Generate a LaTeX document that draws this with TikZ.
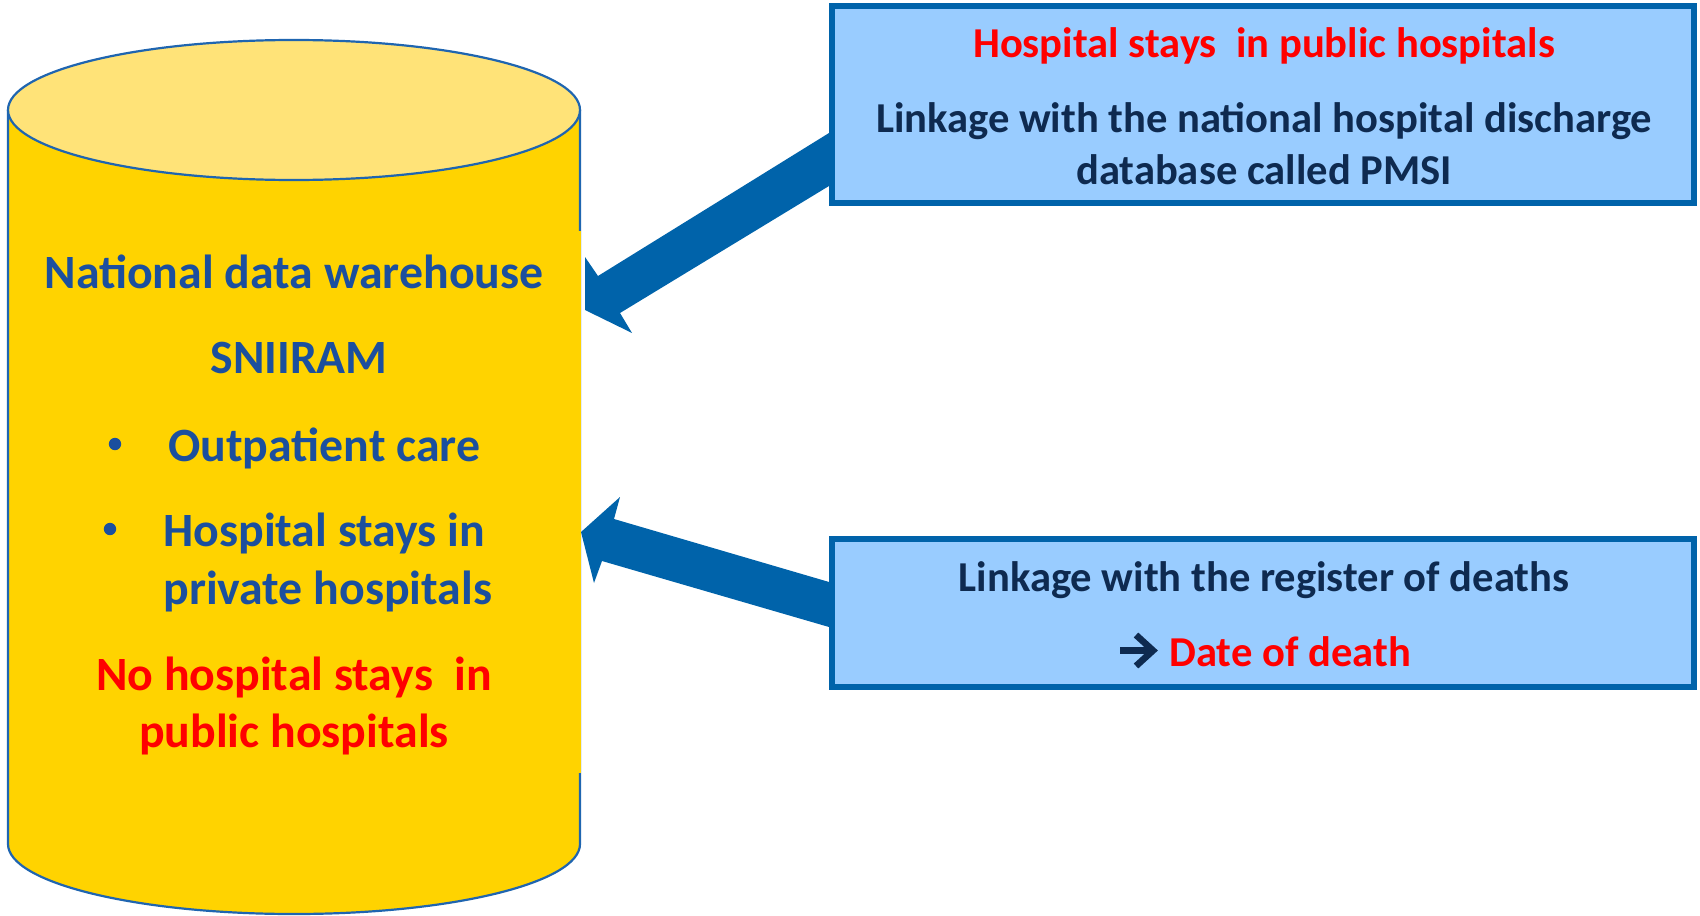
\documentclass[tikz,border=0pt]{standalone}
\usepackage{fontspec}
\setmainfont{Carlito}
\definecolor{cylbody}{HTML}{FFD300}
\definecolor{cyltop}{HTML}{FFE378}
\definecolor{cylline}{HTML}{1F65B0}
\definecolor{arrblue}{HTML}{0063AA}
\definecolor{boxfill}{HTML}{99CCFF}
\definecolor{txtblue}{HTML}{1B4F9E}
\definecolor{txtnavy}{HTML}{0E2A50}
\definecolor{txtred}{HTML}{FF0000}
\tikzset{
  boxtext/.style={anchor=base, inner sep=0pt, font=\bfseries\fontsize{21.3}{25.5}\selectfont, text=txtnavy},
  cyltext/.style={anchor=base, inner sep=0pt, font=\bfseries\fontsize{23.9}{28.7}\selectfont, text=txtblue},
  linkbox/.style={draw=arrblue, fill=boxfill, line width=3pt, inner sep=0pt, minimum width=431pt},
  blockarrow/.style={fill=arrblue, draw=none},
  bulletdot/.style={circle, fill=txtblue, inner sep=0pt, minimum size=6.2pt},
}
\begin{document}
\begin{tikzpicture}[x=0.5pt,y=-0.5pt]
\useasboundingbox (0,0) rectangle (1700,915);
% cylinder body
\fill[cylbody] (8,110) -- (8,844) .. controls (8,882.66) and (136.04,914) .. (294,914)
  .. controls (451.96,914) and (580,882.66) .. (580,844) -- (580,110) -- cycle;
\draw[cylline, line width=1.1pt] (8,110) -- (8,844) .. controls (8,882.66) and (136.04,914) .. (294,914)
  .. controls (451.96,914) and (580,882.66) .. (580,844) -- (580,110);
% top ellipse
\draw[cylline, line width=1.1pt, fill=cyltop] (8,110) .. controls (8,71.34) and (136.04,40) .. (294,40)
  .. controls (451.96,40) and (580,71.34) .. (580,110)
  .. controls (580,148.66) and (451.96,180) .. (294,180)
  .. controls (136.04,180) and (8,148.66) .. (8,110) -- cycle;
% block arrows
\fill[blockarrow] (585,257) -- (585,310) -- (632,333) -- (620,313) -- (840,179.3) -- (840,126.2) -- (598,276) -- cycle;
\fill[blockarrow] (581,532) -- (620,497) -- (614,519) -- (840,585.2) -- (840,630.2) -- (602,561) -- (594,583) -- cycle;
% text area of the cylinder
\fill[cylbody] (30,231) rectangle (581,773);
% linkage boxes
\node[linkbox, minimum height=98.5pt] (pmsi) at (1263,104.5) {};
\node[linkbox, minimum height=74pt] (deaths) at (1263,613) {};
% box texts
\node[boxtext, text=txtred] (pmsiA) at (1264,58) {Hospital stays\ \ in public hospitals};
\node[boxtext] (pmsiB) at (1264,133) {Linkage with the national hospital discharge};
\node[boxtext] (pmsiC) at (1264,184) {database called PMSI};
\node[boxtext] (deathA) at (1264,591) {Linkage with the register of deaths};
\draw[txtnavy, line width=3.3pt, miter limit=10] (1120,650.5) -- (1152,650.5);
\draw[txtnavy, line width=3.3pt, miter limit=10] (1136,635) -- (1153,650.5) -- (1136,666);
\node[boxtext, anchor=base west, text=txtred] (deathB) at (1169,666) {Date of death};
% cylinder texts
\node[cyltext] (c1) at (294,288) {National data warehouse};
\node[cyltext] (c2) at (299,373) {SNIIRAM};
\node[bulletdot] (b1) at (115,444) {};
\node[cyltext, anchor=base west] (c3) at (168,461) {Outpatient care};
\node[bulletdot] (b2) at (110,529) {};
\node[cyltext, anchor=base west] (c4) at (163,546) {Hospital stays in};
\node[cyltext, anchor=base west] (c5) at (163,604) {private hospitals};
\node[cyltext, text=txtred] (c6) at (294,690) {No hospital stays\ \ in};
\node[cyltext, text=txtred] (c7) at (294,747) {public hospitals};
\end{tikzpicture}
\end{document}
